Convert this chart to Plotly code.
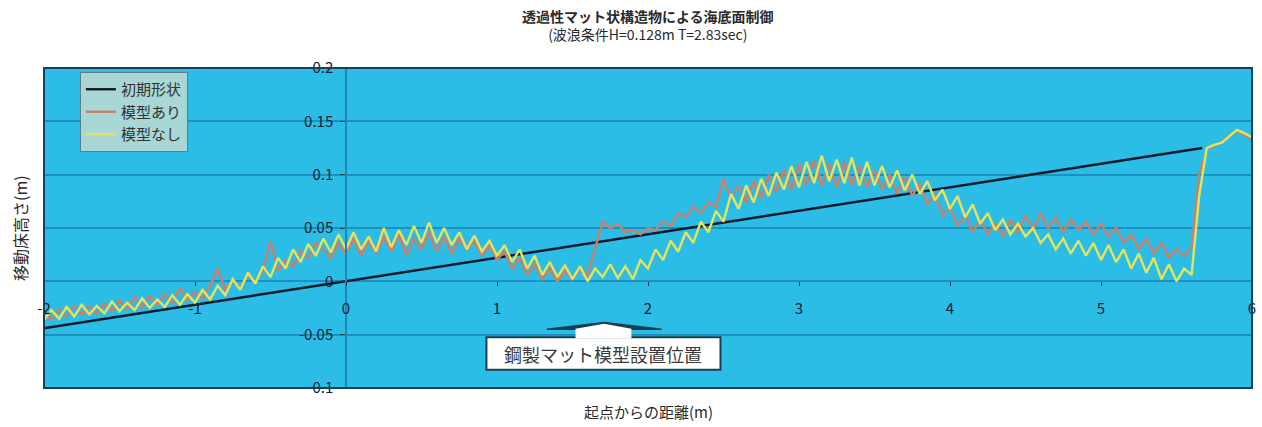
import plotly.graph_objects as go

# Distance from the starting point (m), sampled every 0.05 m
distance = [round(-2 + 0.05 * i, 2) for i in range(161)]

# Initial bed profile (straight slope)
initial_x = [-2.0, 5.67]
initial_y = [-0.044, 0.125]

# Bed elevation with the mat model (m)
with_model = [
    -0.030, -0.036, -0.026, -0.033, -0.023, -0.031, -0.024, -0.030, -0.021, -0.028,
    -0.018, -0.026, -0.015, -0.024, -0.014, -0.022, -0.012, -0.020, -0.006, -0.018,
    -0.010, -0.016, -0.004, 0.012, -0.008, 0.000, -0.006, 0.006, 0.000, 0.010,
    0.038, 0.010, 0.020, 0.014, 0.028, 0.022, 0.036, 0.030, 0.022, 0.036,
    0.026, 0.040, 0.024, 0.038, 0.026, 0.042, 0.028, 0.044, 0.024, 0.040,
    0.030, 0.046, 0.028, 0.042, 0.026, 0.040, 0.030, 0.038, 0.024, 0.034,
    0.020, 0.028, 0.012, 0.022, 0.006, 0.016, 0.002, 0.012, 0.000, 0.010,
    0.002, 0.012, 0.006, 0.030, 0.056, 0.050, 0.054, 0.046, 0.048, 0.044,
    0.050, 0.048, 0.056, 0.052, 0.064, 0.060, 0.070, 0.064, 0.074, 0.070,
    0.096, 0.078, 0.090, 0.074, 0.094, 0.078, 0.100, 0.084, 0.104, 0.086,
    0.110, 0.090, 0.114, 0.090, 0.110, 0.088, 0.112, 0.090, 0.108, 0.088,
    0.104, 0.086, 0.100, 0.082, 0.098, 0.080, 0.092, 0.072, 0.082, 0.062,
    0.070, 0.052, 0.062, 0.046, 0.058, 0.044, 0.054, 0.042, 0.058, 0.046,
    0.062, 0.048, 0.064, 0.050, 0.060, 0.046, 0.058, 0.048, 0.056, 0.044,
    0.054, 0.042, 0.050, 0.036, 0.044, 0.030, 0.040, 0.026, 0.036, 0.022,
    0.030, 0.024, 0.032, 0.100, 0.124, 0.127, 0.131, 0.137, 0.141, 0.137,
    0.134,
]

# Bed elevation without the mat model (m)
without_model = [
    -0.036, -0.027, -0.035, -0.024, -0.033, -0.022, -0.031, -0.023, -0.030, -0.019,
    -0.028, -0.020, -0.027, -0.016, -0.025, -0.017, -0.024, -0.013, -0.022, -0.012,
    -0.020, -0.008, -0.017, -0.004, -0.013, 0.002, -0.008, 0.008, -0.002, 0.014,
    0.004, 0.022, 0.012, 0.030, 0.018, 0.035, 0.024, 0.040, 0.027, 0.044,
    0.030, 0.046, 0.030, 0.042, 0.028, 0.050, 0.032, 0.048, 0.034, 0.052,
    0.036, 0.055, 0.036, 0.050, 0.034, 0.046, 0.030, 0.043, 0.028, 0.038,
    0.024, 0.034, 0.018, 0.030, 0.012, 0.024, 0.006, 0.018, 0.004, 0.015,
    0.002, 0.014, 0.000, 0.012, 0.004, 0.016, 0.003, 0.014, 0.002, 0.020,
    0.012, 0.030, 0.020, 0.038, 0.028, 0.046, 0.036, 0.056, 0.046, 0.066,
    0.056, 0.082, 0.068, 0.090, 0.074, 0.096, 0.080, 0.102, 0.086, 0.108,
    0.088, 0.112, 0.092, 0.118, 0.094, 0.114, 0.092, 0.116, 0.090, 0.112,
    0.090, 0.108, 0.088, 0.104, 0.085, 0.100, 0.082, 0.094, 0.076, 0.086,
    0.068, 0.080, 0.060, 0.072, 0.054, 0.064, 0.048, 0.058, 0.044, 0.054,
    0.042, 0.050, 0.036, 0.044, 0.030, 0.040, 0.026, 0.038, 0.024, 0.036,
    0.020, 0.034, 0.018, 0.030, 0.012, 0.026, 0.008, 0.022, 0.002, 0.016,
    0.000, 0.012, 0.006, 0.080, 0.125, 0.128, 0.130, 0.136, 0.142, 0.139,
    0.135,
]

x_ticks = [-2, -1, 0, 1, 2, 3, 4, 5, 6]
x_tick_text = ["-2", "-1", "0", "1", "2", "3", "4", "5", "6"]
y_ticks = [-0.1, -0.05, 0, 0.05, 0.1, 0.15, 0.2]
y_tick_text = ["-0.1", "-0.05", "0", "0.05", "0.1", "0.15", "0.2"]

# Steel mat installation marker (m) and its label box
mat_start, mat_peak, mat_end = 1.33, 1.71, 2.09
label_left, label_right = 0.93, 2.48

FONT = "Noto Sans CJK JP"
PLOT_BG = "#2bbde5"
GRID = "#1c90bf"
FRAME = "#15425a"
OUTLINE = "#1b3e52"

fig = go.Figure()
fig.add_trace(go.Scatter(x=initial_x, y=initial_y, mode="lines", name="初期形状",
                         line=dict(color="#0d1a2a", width=2.4)))
fig.add_trace(go.Scatter(x=distance, y=with_model, mode="lines", name="模型あり",
                         line=dict(color="#c97f6e", width=2.4)))
fig.add_trace(go.Scatter(x=distance, y=without_model, mode="lines", name="模型なし",
                         line=dict(color="#e4e45c", width=2.4)))

# Callout pointing at the mat position: dark roof, white neck and label box
roof_y, apex_y = -0.045, -0.0385
box_top, box_bottom = -0.0525, -0.083
neck_l, neck_r = 1.52, 1.89
fig.add_shape(type="path", xref="x", yref="y", layer="above",
              path=f"M {mat_start},{roof_y} L {mat_peak},{apex_y} L {mat_end},{roof_y} Z",
              fillcolor=OUTLINE, line=dict(color=OUTLINE, width=1.5))
fig.add_shape(type="rect", xref="x", yref="y", layer="above",
              x0=label_left, x1=label_right, y0=box_bottom, y1=box_top,
              fillcolor="white", line=dict(color=OUTLINE, width=2))
fig.add_shape(type="path", xref="x", yref="y", layer="above",
              path=(f"M {neck_l},{box_top - 0.001} L {neck_l},{roof_y + 0.0005} "
                    f"L {mat_peak},{apex_y - 0.0012} L {neck_r},{roof_y + 0.0005} "
                    f"L {neck_r},{box_top - 0.001} Z"),
              fillcolor="white", line=dict(width=0))
fig.add_annotation(x=(label_left + label_right) / 2, y=(box_top + box_bottom) / 2,
                   xref="x", yref="y", text="鋼製マット模型設置位置", showarrow=False,
                   font=dict(family=FONT, size=18, color="#3a3a3a"))

# Plot frame
fig.add_shape(type="rect", xref="paper", yref="paper", x0=0, x1=1, y0=0, y1=1,
              line=dict(color=FRAME, width=2), layer="above")

fig.update_layout(
    width=1262, height=427,
    margin=dict(l=44, r=6, t=68, b=39),
    paper_bgcolor="white", plot_bgcolor=PLOT_BG,
    font=dict(family=FONT, size=13, color="#2a2a2a"),
    showlegend=True,
    legend=dict(x=0.0297, y=0.9875, xanchor="left", yanchor="top",
                bgcolor="#a8d7d5", bordercolor="#5f7f86", borderwidth=1,
                font=dict(family=FONT, size=15, color="#333333")),
    annotations=list(fig.layout.annotations) + [
        dict(text="<b>透過性マット状構造物による海底面制御</b><br>(波浪条件H=0.128m T=2.83sec)",
             x=0.5, y=1.0, xref="paper", yref="paper", yshift=64, xanchor="center",
             yanchor="top", showarrow=False, align="center",
             font=dict(family=FONT, size=14, color="#2a2a2a")),
        dict(text="起点からの距離(m)", x=0.5, y=0, xref="paper", yref="paper",
             yshift=-23, xanchor="center", yanchor="middle", showarrow=False,
             font=dict(family=FONT, size=15, color="#2a2a2a")),
        dict(text="移動床高さ(m)", x=0, y=0.5, xref="paper", yref="paper",
             xshift=-24, xanchor="center", yanchor="middle", showarrow=False,
             textangle=-90, font=dict(family=FONT, size=16, color="#2a2a2a")),
    ],
    xaxis=dict(range=[-2, 6], tickvals=x_ticks, ticktext=x_tick_text,
               showgrid=False, zeroline=False, anchor="free", position=1 / 3,
               showline=False, ticks="outside", ticklen=4, tickcolor="#1a3a4a",
               ticklabelstandoff=10, tickfont=dict(size=15, color="#10202e")),
    yaxis=dict(range=[-0.1, 0.2], tickvals=y_ticks, ticktext=y_tick_text,
               showgrid=True, gridcolor=GRID, gridwidth=1.5, zeroline=False,
               anchor="free", position=0.25, showline=True, linecolor="#1f86b3",
               linewidth=1.5, ticks="outside", ticklen=5, tickcolor="#1a3a4a",
               ticklabelstandoff=4, tickfont=dict(size=15, color="#10202e")),
)

fig.write_html("out.html")
